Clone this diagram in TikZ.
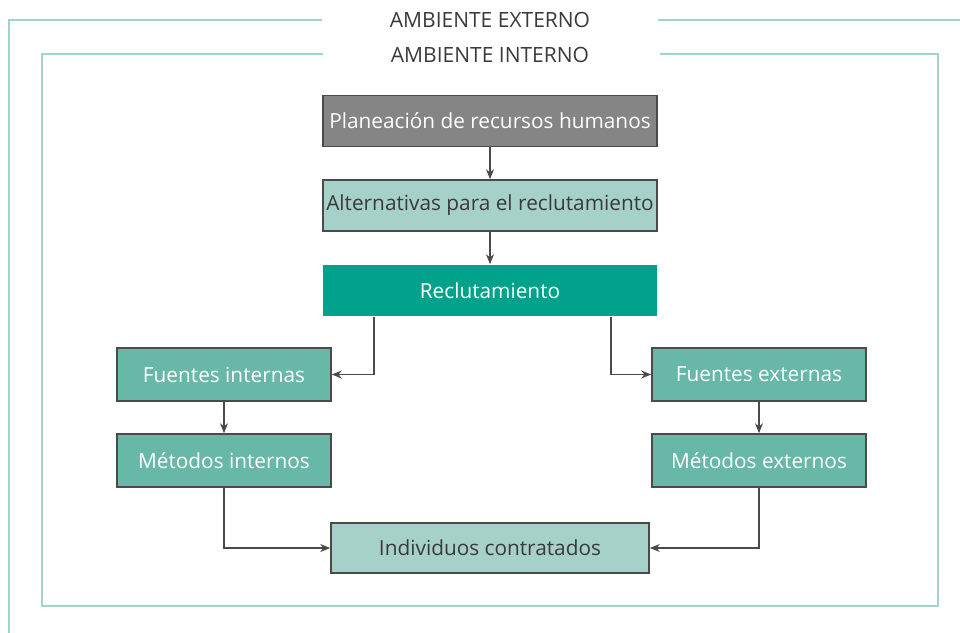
\documentclass[tikz,border=0pt]{standalone}
\usepackage{fontspec}
\setmainfont{Open Sans}
\usetikzlibrary{arrows.meta}
\definecolor{frameteal}{HTML}{9ED6CB}
\definecolor{boxgray}{HTML}{858586}
\definecolor{lightteal}{HTML}{A6D1C8}
\definecolor{midteal}{HTML}{67B8A7}
\definecolor{strongteal}{HTML}{00A28B}
\definecolor{edgegray}{HTML}{4A4A4A}
\definecolor{txtgray}{HTML}{3A3A3A}
\begin{document}
\begin{tikzpicture}[x=1pt,y=-1pt,
  frameline/.style={draw=frameteal,line width=2.2pt},
  boxbase/.style={draw=edgegray,line width=1.6pt,minimum height=51pt,inner sep=0pt,font=\fontsize{20.8}{23}\selectfont},
  graybox/.style={boxbase,fill=boxgray,text=white,minimum width=334pt},
  lightbox/.style={boxbase,fill=lightteal,text=txtgray},
  midbox/.style={boxbase,fill=midteal,text=white,minimum width=214pt,minimum height=53pt},
  strongbox/.style={boxbase,draw=none,fill=strongteal,text=white,minimum width=334pt},
  conn/.style={draw=edgegray,line width=1.3pt,-{Stealth[length=10pt,width=8pt]}},
  envlabel/.style={text=txtgray,font=\fontsize{21}{23}\selectfont,inner sep=0pt}
]
\useasboundingbox (0,0) rectangle (960,632);
% frames
\draw[frameline] (322,20) -- (9,20) -- (9,640);
\draw[frameline] (658,20) -- (970,20);
\draw[frameline] (323,54) -- (42,54) -- (42,606) -- (938,606) -- (938,54) -- (660,54);
\node[envlabel] (ext) at (490,20) {AMBIENTE EXTERNO};
\node[envlabel] (int) at (490,55) {AMBIENTE INTERNO};
% boxes
\node[graybox] (plan) at (490,121) {Planeación de recursos humanos};
\node[lightbox,minimum width=334pt] (alt) at (490,205.5) {Alternativas para el reclutamiento};
\node[strongbox] (recl) at (490,290.5) {Reclutamiento};
\node[midbox] (fi) at (224,374.5) {Fuentes internas};
\node[midbox] (mi) at (224,460.5) {Métodos internos};
\node[midbox] (fe) at (759,374.5) {Fuentes externas};
\node[midbox] (me) at (759,460.5) {Métodos externos};
\node[lightbox,minimum width=318pt,minimum height=50pt] (ind) at (490,548) {Individuos contratados};
% connectors
\draw[conn] (recl.south -| 374,0) |- (fi.east);
\draw[conn] (recl.south -| 611,0) |- (fe.west);
\draw[conn] (plan) -- (alt);
\draw[conn] (alt) -- (recl);
\draw[conn] (fi) -- (mi);
\draw[conn] (fe) -- (me);
\draw[conn] (mi.south) |- (ind.west);
\draw[conn] (me.south) |- (ind.east);
\end{tikzpicture}
\end{document}
